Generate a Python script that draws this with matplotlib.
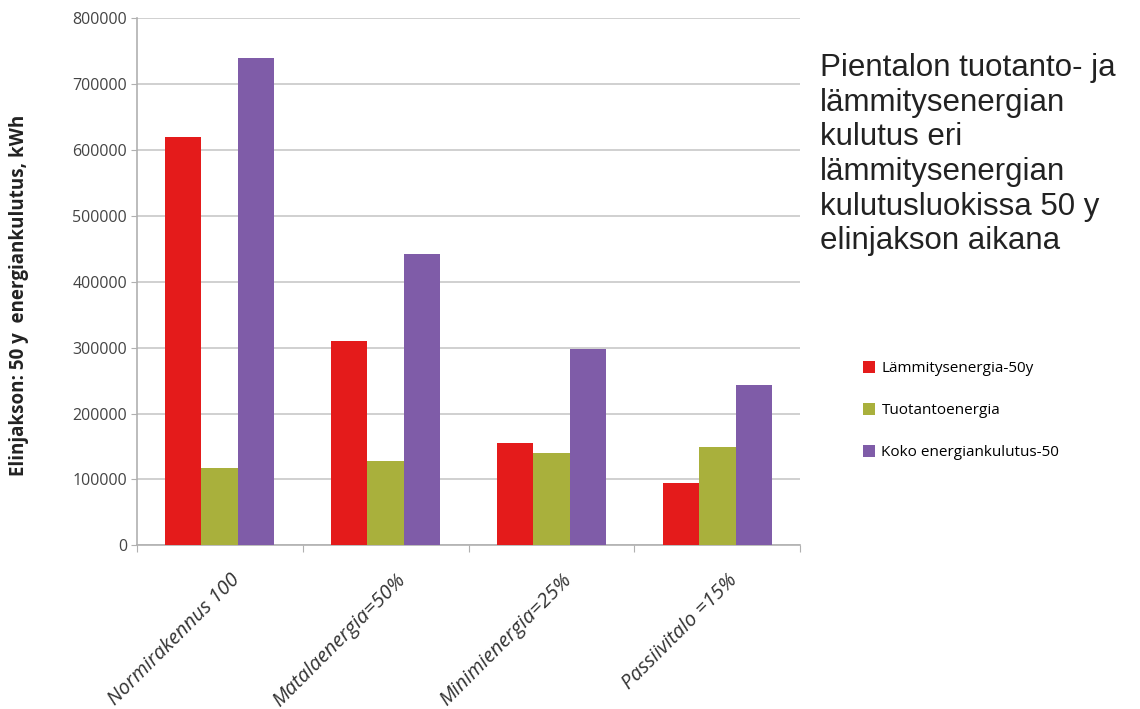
import numpy as np
import matplotlib.pyplot as plt

# talotyypit ja energiankulutus 50 vuoden elinjaksolla (kWh)
categories = ['Normirakennus 100', 'Matalaenergia=50%', 'Minimienergia=25%', 'Passiivitalo =15%']
lammitys = [620000, 310000, 155000, 94000]
tuotanto = [118000, 128000, 140000, 149000]
koko = [740000, 442000, 298000, 244000]
series_names = ['Lämmitysenergia-50y', 'Tuotantoenergia', 'Koko energiankulutus-50']
colors = ['#e41b1b', '#a9b03c', '#7f5ca8']

fig = plt.figure(figsize=(11.4, 7.09), dpi=100)
ax = fig.add_axes([0.120, 0.231, 0.582, 0.743])

x = np.arange(len(categories))
w = 0.22
bars = []
for i, (vals, c) in enumerate(zip([lammitys, tuotanto, koko], colors)):
    b = ax.bar(x + (i - 1) * w, vals, w, color=c, zorder=3)
    bars.append(b)

ax.set_xlim(-0.5, len(categories) - 0.5)
ax.set_ylim(0, 800000)
ax.set_yticks(np.arange(0, 800001, 100000))
ax.set_yticklabels([str(v) for v in range(0, 800001, 100000)],
                   fontsize=11.5, color='#444444', family='Open Sans')
ax.yaxis.grid(True, color='#c8c8c8', linewidth=1.2, zorder=0)

# x-akselin jakoviivat ryhmien väliin
ax.set_xticks(np.arange(-0.5, len(categories), 1.0))
ax.set_xticklabels([])
ax.tick_params(axis='x', length=5, color='#b0b0b0', direction='out')
ax.tick_params(axis='y', length=4, color='#b0b0b0', direction='out', pad=3)
for cx, lab in zip(x, categories):
    ax.text(cx + 0.06, -38000, lab, rotation=45, ha='right', va='top',
            rotation_mode='anchor', fontsize=14.5, color='#333333',
            family='Open Sans', style='italic', transform=ax.transData)

for side in ['top', 'right']:
    ax.spines[side].set_visible(False)
for side in ['left', 'bottom']:
    ax.spines[side].set_color('#b0b0b0')
    ax.spines[side].set_linewidth(1.2)

ax.set_ylabel('Elinjakson: 50 y  energiankulutus, kWh', fontsize=13.5,
              fontweight='bold', color='#222222', family='Open Sans')
ax.yaxis.set_label_coords(-0.163, 0.474)

fig.text(0.719, 0.925,
         'Pientalon tuotanto- ja\nlämmitysenergian\nkulutus eri\nlämmitysenergian\n'
         'kulutusluokissa 50 y\nelinjakson aikana',
         fontsize=22.5, family='Liberation Sans', color='#222222',
         va='top', ha='left', linespacing=1.2)

fig.legend(bars, series_names, loc='upper left', bbox_to_anchor=(0.745, 0.51),
           frameon=False, handlelength=0.8, handleheight=0.8,
           labelspacing=1.75, handletextpad=0.4, prop={'family': 'Open Sans', 'size': 11})

fig.savefig('out.png', dpi=100)
